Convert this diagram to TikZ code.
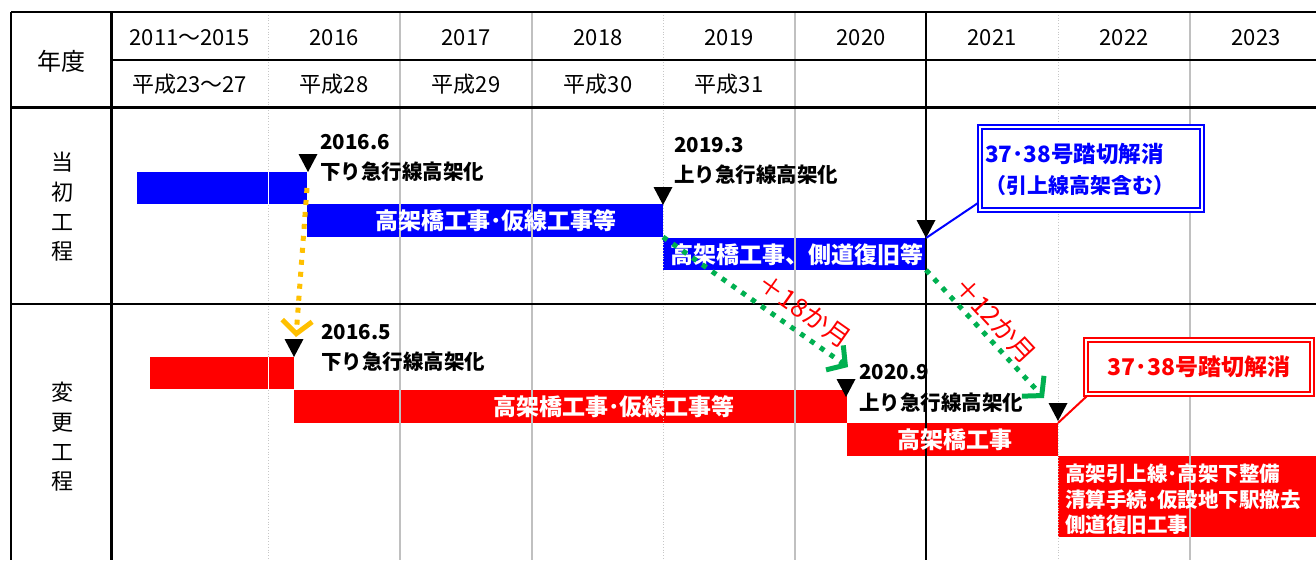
\documentclass[tikz,border=0pt]{standalone}
\usepackage{fontspec}
\setmainfont{Noto Sans CJK JP}
\usetikzlibrary{arrows.meta}
\definecolor{xblue}{RGB}{0,0,255}
\definecolor{xred}{RGB}{255,0,0}
\definecolor{xgreen}{RGB}{0,176,80}
\definecolor{xyellow}{RGB}{255,192,0}
\definecolor{xgrid}{RGB}{192,192,192}
\newcommand\fsz[2]{\fontsize{#1}{#2}\selectfont}
\begin{document}
\begin{tikzpicture}[x=1pt,y=-1pt,
  gridk/.style={black,line width=#1},
  gridg/.style={color=xgrid,line width=2pt},
  gridd/.style={color=black!22,line width=0.8pt,dotted},
  bar/.style={fill=#1,draw=none,inner sep=0pt,outer sep=0pt,anchor=north west},
  bartxt/.style={text=white,font=\bfseries\fsz{23}{26},inner sep=0pt},
  hdr/.style={font=\fsz{22}{24},inner sep=0pt},
  lbl/.style={anchor=west,font=\bfseries\fsz{20.5}{24},inner sep=0pt},
  dotarrow/.style={line width=5pt,dash pattern=on 5pt off 7pt,color=#1,
    -{Straight Barb[length=13pt,width=30pt,line width=5pt]}},
  rotlbl/.style={text=xred,font=\fsz{26}{28},inner sep=0pt},
  cbox/.style={draw=#1,line width=2pt,double=white,double distance=2.6pt,inner sep=0pt,fill=white},
  mk/.style={fill=black}
]
\useasboundingbox (0,0) rectangle (1316,560);
\fill[white] (0,0) rectangle (1316,560);

% bars
\node[bar=xblue, minimum width=170pt, minimum height=32pt] (b1) at (137,172) {};
\node[bar=xblue, minimum width=356pt, minimum height=33pt] (b2) at (307,204) {};
\node[bar=xblue, minimum width=263pt, minimum height=32pt] (b3) at (663,238) {};
\node[bar=xred, minimum width=144pt, minimum height=32pt] (r1) at (150,357) {};
\node[bar=xred, minimum width=553pt, minimum height=33pt] (r2) at (294,390) {};
\node[bar=xred, minimum width=211pt, minimum height=33pt] (r3) at (847,423) {};
\node[bar=xred, minimum width=258pt, minimum height=81pt] (r4) at (1058,456) {};

% grid
\draw[gridg] (400,12) -- (400,560);
\draw[gridg] (532,12) -- (532,560);
\draw[gridg] (795,12) -- (795,560);
\draw[gridg] (1190,12) -- (1190,560);
\draw[gridd] (268,12) -- (268,560);
\draw[gridd] (663,12) -- (663,560);
\draw[gridd] (1058,12) -- (1058,560);
\draw[white,line width=0.8pt] (268,172) -- (268,204);
\draw[white,line width=0.8pt] (268,357) -- (268,389);
\draw[gridk=2pt] (11,12) -- (1316,12);
\draw[gridk=1.5pt] (111,60) -- (1316,60);
\draw[gridk=3pt] (11,107) -- (1316,107);
\draw[gridk=1.5pt] (11,304) -- (1316,304);
\draw[gridk=2.5pt] (11,12) -- (11,560);
\draw[gridk=3pt] (111,12) -- (111,560);
\draw[gridk=2pt] (926,12) -- (926,560);

% header
\node[font=\fsz{24}{28},inner sep=0pt] (nendo) at (61,61) {年度};
\node[hdr] (h1) at (189.5,38) {2011～2015};
\node[hdr] (h2) at (334,38) {2016};
\node[hdr] (h3) at (466,38) {2017};
\node[hdr] (h4) at (598,38) {2018};
\node[hdr] (h5) at (729,38) {2019};
\node[hdr] (h6) at (861,38) {2020};
\node[hdr] (h7) at (992,38) {2021};
\node[hdr] (h8) at (1124,38) {2022};
\node[hdr] (h9) at (1256,38) {2023};
\node[hdr] (k1) at (189.5,84) {平成23～27};
\node[hdr] (k2) at (334,84) {平成28};
\node[hdr] (k3) at (466,84) {平成29};
\node[hdr] (k4) at (598,84) {平成30};
\node[hdr] (k5) at (729,84) {平成31};

% side labels
\node[font=\fsz{22}{29.7},align=center,inner sep=0pt] (s1) at (62,207) {当\\初\\工\\程};
\node[font=\fsz{22}{29.7},align=center,inner sep=0pt] (s2) at (62,437) {変\\更\\工\\程};

% bar texts
\node[bartxt] (b2t) at (496,221) {高架橋工事･仮線工事等};
\node[bartxt] (b3t) at (797,255) {高架橋工事、側道復旧等};
\node[bartxt] (r2t) at (614,407) {高架橋工事･仮線工事等};
\node[bartxt] (r3t) at (955,440) {高架橋工事};
\node[bartxt,font=\bfseries\fsz{20.5}{26},anchor=west] (r4a) at (1065,474) {高架引上線･高架下整備};
\node[bartxt,font=\bfseries\fsz{20.5}{26},anchor=west] (r4b) at (1065,500) {清算手続･仮設地下駅撤去};
\node[bartxt,font=\bfseries\fsz{20.5}{26},anchor=west] (r4c) at (1065,525) {側道復旧工事};

% milestone markers
\coordinate (m1) at (308,172);
\coordinate (m2) at (663,205);
\coordinate (m3) at (926,238);
\coordinate (m4) at (294,357);
\coordinate (m5) at (846,397);
\coordinate (m6) at (1058,421);
\foreach \m in {m1,m2,m3,m4,m5,m6}
  \fill[mk] (\m) -- ++(-9.5,-18) -- ++(19,0) -- cycle;

% milestone labels
\node[lbl] (l1a) at (320,142) {2016.6};
\node[lbl] (l1b) at (320,172) {下り急行線高架化};
\node[lbl] (l2a) at (674,145) {2019.3};
\node[lbl] (l2b) at (674,175) {上り急行線高架化};
\node[lbl] (l3a) at (321,332) {2016.5};
\node[lbl] (l3b) at (321,362) {下り急行線高架化};
\node[lbl] (l4a) at (859,372) {2020.9};
\node[lbl] (l4b) at (859,403) {上り急行線高架化};

% shift arrows
\coordinate (ya) at (296,337);
\coordinate (ga) at (848,367);
\coordinate (gb) at (1044,398);
\draw[dotarrow=xyellow] (b1.east) -- (ya);
\draw[dotarrow=xgreen] (b2.south east) -- node[rotlbl,sloped,pos=0.7,above=7pt] (d18) {＋18か月} (ga);
\draw[dotarrow=xgreen] (b3.south east) -- node[rotlbl,sloped,pos=0.48,above=3pt] (d12) {＋12か月} (gb);

% callouts
\coordinate (cbp) at (978,203);
\coordinate (crp) at (1087,396);
\draw[xblue,line width=2pt] (m3) -- (cbp);
\draw[xred,line width=2pt] (r3.north east) -- (crp);
\node[cbox=xblue, minimum width=222pt, minimum height=83pt] (cb) at (1091,168.5) {};
\node[anchor=west,inner sep=0pt,text=xblue,font=\bfseries\fsz{22.5}{24}] (cb1) at (985,154) {37･38号踏切解消};
\node[anchor=west,inner sep=0pt,text=xblue,font=\bfseries\fsz{21}{24}] (cb2) at (985,186) {（引上線高架含む）};
\node[cbox=xred, minimum width=226pt, minimum height=54pt] (cr) at (1199,367) {};
\node[inner sep=0pt,text=xred,font=\bfseries\fsz{23}{26}] (cr1) at (1199,367) {37･38号踏切解消};
\end{tikzpicture}
\end{document}
